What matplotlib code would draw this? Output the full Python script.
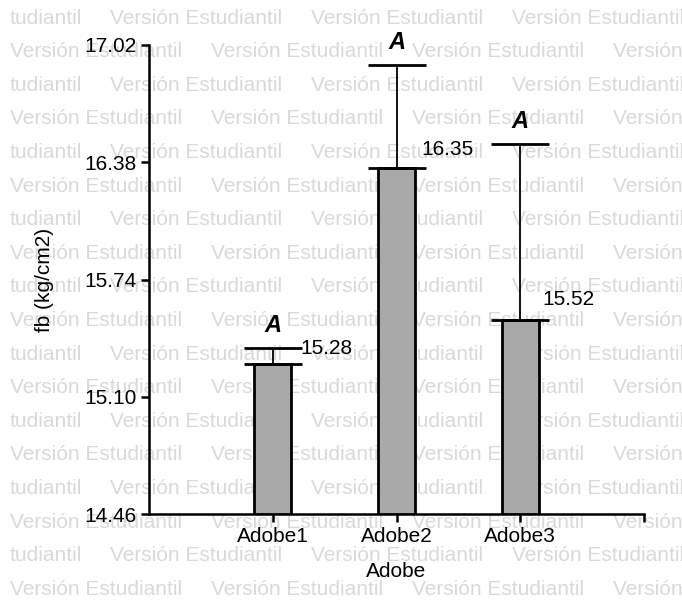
import matplotlib
matplotlib.use('Agg')
import matplotlib.pyplot as plt

plt.rcParams['font.family'] = ['Liberation Sans', 'DejaVu Sans']

# data
categories = ['Adobe1', 'Adobe2', 'Adobe3']
means = [15.28, 16.35, 15.52]
errUpper = [0.085, 0.56, 0.96]
groupLetters = ['A', 'A', 'A']
yTicks = [14.46, 15.10, 15.74, 16.38, 17.02]

fig = plt.figure(figsize=(6.82, 6.10), dpi=100)

# "Versión Estudiantil" watermark rows, behind the plot
rowY = 18
row = 0
while rowY < 610:
  startX = 110 if row % 2 == 0 else 10
  if row % 2 == 0:
    fig.text(10 / 682, 1 - rowY / 610, 'tudiantil', color='#d9d9d9', fontsize=15, va='center', ha='left', zorder=0)
  x = startX
  while x < 682:
    fig.text(x / 682, 1 - rowY / 610, 'Versión Estudiantil', color='#d9d9d9', fontsize=15, va='center', ha='left', zorder=0)
    x += 201
  rowY += 33.6
  row += 1

ax = fig.add_axes([149 / 682, 96 / 610, (644 - 149) / 682, (565 - 96) / 610])
ax.set_zorder(2)
ax.patch.set_alpha(0)

positions = [1, 2, 3]
ax.bar(positions, [m - yTicks[0] for m in means], bottom=yTicks[0], width=0.3,
       color='#a9a9a9', edgecolor='black', linewidth=2, zorder=3)
ax.errorbar(positions, means, yerr=[[0, 0, 0], errUpper], fmt='none', ecolor='black',
            elinewidth=1.3, capsize=21, capthick=2, zorder=4)

for i, p in enumerate(positions):
  top = means[i] + errUpper[i]
  ax.text(p, top + 0.06, groupLetters[i], ha='center', va='bottom', fontsize=17,
          fontweight='bold', fontstyle='italic', zorder=5)

ax.text(1.22, means[0] + errUpper[0], '%.2f' % means[0], ha='left', va='center', fontsize=15, zorder=5)
ax.text(2.2, 16.45, '%.2f' % means[1], ha='left', va='center', fontsize=15, zorder=5)
ax.text(3.18, 15.63, '%.2f' % means[2], ha='left', va='center', fontsize=15, zorder=5)

ax.set_xlim(0, 4)
ax.set_ylim(yTicks[0], yTicks[-1])
ax.set_yticks(yTicks)
ax.set_yticklabels(['%.2f' % t for t in yTicks], fontsize=15)
ax.set_xticks([1, 2, 3, 4])
ax.set_xticklabels(categories + [''], fontsize=15)
ax.tick_params(axis='both', direction='out', length=6, width=1.8, pad=3)

for side in ['top', 'right']:
  ax.spines[side].set_visible(False)
for side in ['left', 'bottom']:
  ax.spines[side].set_linewidth(1.8)

ax.set_ylabel('fb (kg/cm2)', fontsize=15, labelpad=22)
ax.set_xlabel('Adobe', fontsize=15, labelpad=12)

plt.savefig('out.png', dpi=100)
